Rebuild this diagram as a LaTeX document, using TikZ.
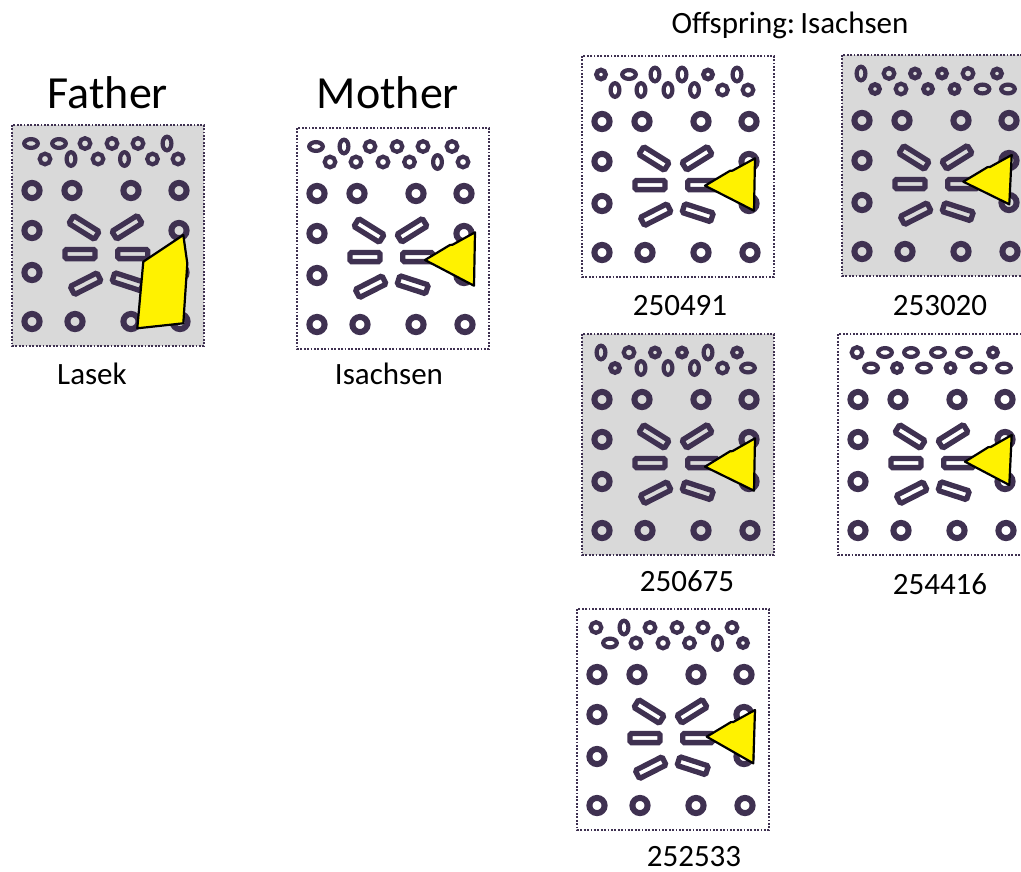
\documentclass[tikz,border=0pt]{standalone}
\usepackage{fontspec}
\setmainfont{Carlito}
\usetikzlibrary{calc}
\definecolor{ringc}{HTML}{3F3151}
\definecolor{panelgray}{HTML}{D9D9D9}
\tikzset{
  frame/.style={draw=ringc, line width=1.8pt, dash pattern=on 1.8pt off 1.6pt},
  ring/.style={draw=ringc, line width=6pt},
  small/.style={draw=ringc, line width=4.2pt},
  bar/.style={draw=ringc, line width=5.3pt, rounded corners=1.5pt},
  tri/.style={fill=yellow, draw=black, line width=2.2pt, line join=round},
  bigtxt/.style={font=\fontsize{46}{50}\selectfont, inner sep=0pt},
  labtxt/.style={font=\fontsize{31}{35}\selectfont, inner sep=0pt},
  pics/so/.style={code={\draw[small] (0,0) circle[radius=5.3];}},
  pics/sp/.style={code={\draw[small, line width=4.8pt] (0,0) circle[radius=4.5];}},
  pics/sh/.style={code={\draw[small] (0,0) ellipse[x radius=6.8, y radius=4.4];}},
  pics/sv/.style={code={\draw[small] (0,0) ellipse[x radius=4.4, y radius=6.8];}},
}
\newcommand\drawpanel[5]{%
  \begin{scope}[shift={(#1,#2)}]
    \path[frame, fill=#3] (0,0) rectangle (192,221);
    \foreach \t [count=\i] in {#4} {
      \pgfmathsetmacro\xx{{19,47,73,100,126,155}[\i-1]}
      \pic at (\xx,18.5) {s\t};
    }
    \foreach \t [count=\i] in {#5} {
      \pgfmathsetmacro\xx{{33,59,86,112.5,140.5,166}[\i-1]}
      \pic at (\xx,34) {s\t};
    }
    \foreach \x/\y in {20/65.5, 60/65.5, 119/65.5, 167/65.5,
                       20/105.5, 167/105.5, 20/147.5, 167/147.5,
                       20/196.5, 63/196.5, 119/196.5, 168/196.5}
      \draw[ring] (\x,\y) circle[radius=7.6];
    \foreach \x/\y/\a in {68/129/0, 120.7/129/0, 72/102.5/-32,
                          115/102.3/32, 73.7/158.7/27, 115.7/156.7/-18}
      \draw[bar, rotate around={\a:(\x,\y)}] (\x-15,\y-4.6) rectangle (\x+15,\y+4.6);
  \end{scope}}
\newcommand\drawtri[5]{%
  \begin{scope}[shift={(#1,#2)}]
    \coordinate (tA) at #3;
    \coordinate (tB) at #4;
    \coordinate (tC) at #5;
    \draw[tri] (tA) -- ($(tA)!0.5!(tB)+(0,-1.2)$) -- ($(tA)!0.55!(tB)$) -- (tB) -- (tC) -- cycle;
  \end{scope}}
\begin{document}
\begin{tikzpicture}[x=1pt, y=-1pt]
  \useasboundingbox (0,0) rectangle (1021,871);
  \clip (0,0) rectangle (1021,871);
  % Father
  \drawpanel{12}{125}{panelgray}{h,h,o,o,o,v}{o,v,o,v,o,o}
  \begin{scope}[shift={(12,125)}]
    \draw[tri] (131.3,136.7) -- (171.3,110) -- (175.3,138.3) -- (171.3,198.3) -- (125.3,203.3) -- cycle;
  \end{scope}
  % Mother
  \drawpanel{297}{128}{white}{h,v,o,o,o,o}{o,o,o,o,v,o}
  \drawtri{297}{128}{(128,132)}{(178,104.3)}{(177,157.7)}
  % offspring
  \drawpanel{582}{56}{white}{p,h,v,v,p,v}{v,v,v,v,o,o}
  \drawtri{582}{56}{(123,129.7)}{(173,102.3)}{(172,154.7)}
  \drawpanel{842}{55}{panelgray}{v,o,p,p,o,p}{p,o,p,p,h,h}
  \drawtri{842}{55}{(121.3,126.7)}{(169.7,100)}{(167.3,149.3)}
  \drawpanel{582}{334}{panelgray}{v,o,p,p,v,p}{p,v,v,v,o,h}
  \drawtri{582}{334}{(123,132.7)}{(173,104.3)}{(172,156.7)}
  \drawpanel{838}{334}{white}{o,h,h,h,h,p}{h,p,h,p,h,h}
  \drawtri{838}{334}{(127,127.7)}{(173.7,101)}{(171.3,151)}
  \drawpanel{577}{609}{white}{o,v,o,o,o,o}{h,o,o,o,v,p}
  \drawtri{577}{609}{(129.7,127.7)}{(178,101)}{(176.3,154.3)}
  % texts
  \node[bigtxt, anchor=base] (father) at (108,108) {Father};
  \node[bigtxt, anchor=base] (mother) at (388,108) {Mother};
  \node[labtxt, anchor=base] (offspring) at (790,33) {Offspring:\,Isachsen};
  \node[labtxt, anchor=base] (lasek) at (92,384) {Lasek};
  \node[labtxt, anchor=base] (isachsen) at (389,384) {Isachsen};
  \node[labtxt, anchor=base] (l250491) at (680,315) {250491};
  \node[labtxt, anchor=base] (l253020) at (940,315) {253020};
  \node[labtxt, anchor=base] (l250675) at (687,591) {250675};
  \node[labtxt, anchor=base] (l254416) at (940,594) {254416};
  \node[labtxt, anchor=base] (l252533) at (694,866) {252533};
\end{tikzpicture}
\end{document}
